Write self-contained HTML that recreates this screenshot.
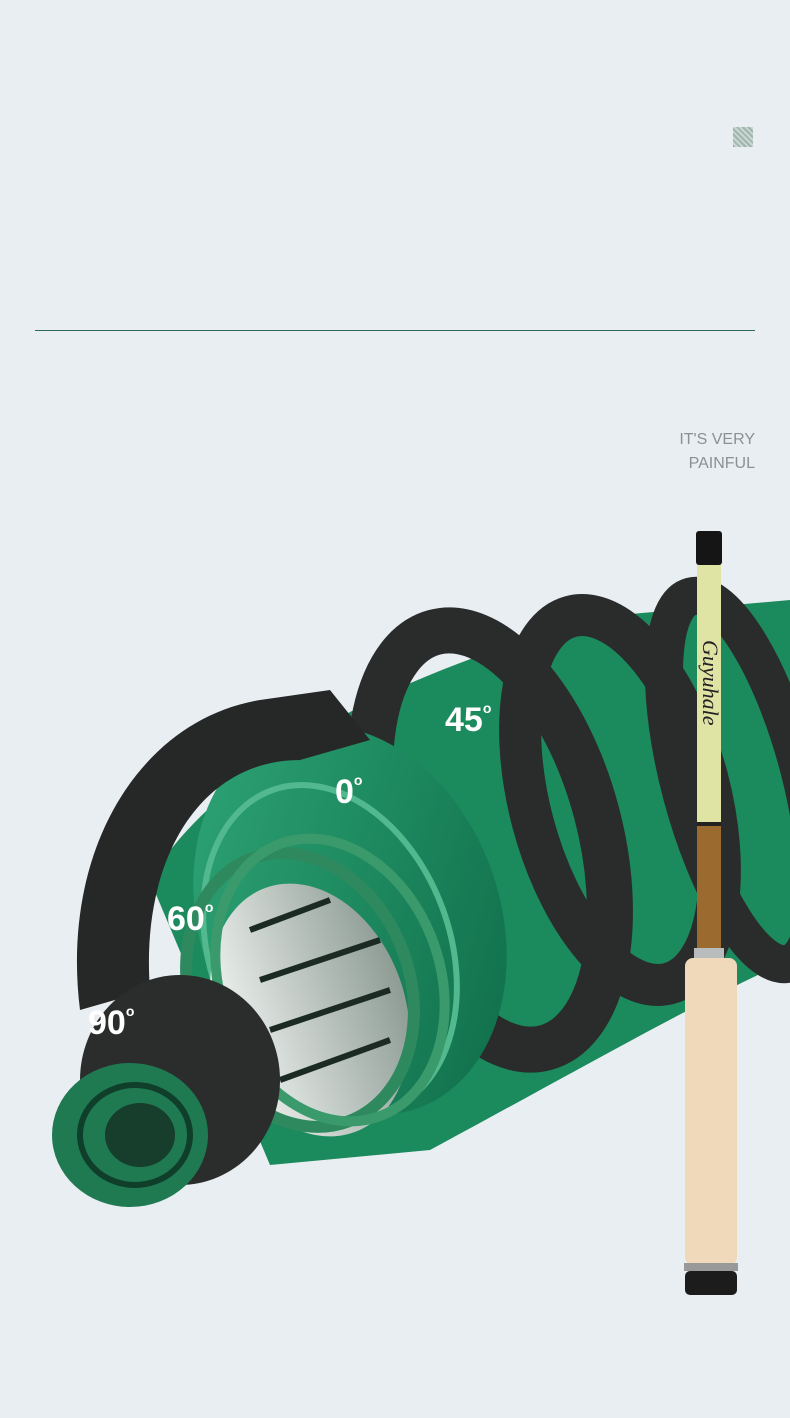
<!DOCTYPE html>
<html><head><meta charset="utf-8"><style>
html,body{margin:0;padding:0}
body{width:790px;height:1418px;background:#e9eef2;position:relative;overflow:hidden;font-family:"Liberation Sans",sans-serif}
.line{position:absolute;left:35px;top:330px;width:720px;height:1px;background:#2f6b55}
.sq{position:absolute;left:733px;top:127px;width:20px;height:20px;background:repeating-linear-gradient(45deg,#9fb5ad 0 2px,#c9d6d1 2px 4px)}
.t{position:absolute;right:35px;top:428px;text-align:right;color:#8b9095;font-size:16px;line-height:24px}
svg{position:absolute;left:0;top:0}
</style></head><body>
<div class="sq"></div>
<div class="line"></div>
<div class="t">IT'S VERY<br>PAINFUL</div>
<svg width="790" height="1418" viewBox="0 0 790 1418">
<defs>
<linearGradient id="g" x1="0" y1="0" x2="1" y2="1"><stop offset="0" stop-color="#2fa878"/><stop offset="1" stop-color="#0d6a47"/></linearGradient>
<linearGradient id="s" x1="0" y1="0" x2="1" y2="0"><stop offset="0" stop-color="#f2f5f3"/><stop offset="1" stop-color="#8e9c95"/></linearGradient>
</defs>
<path d="M150 880 C220 760 420 660 620 615 L790 600 L790 960 C700 1000 560 1080 430 1150 L270 1165 Z" fill="#1b8a5c"/>
<ellipse cx="740" cy="780" rx="60" ry="190" transform="rotate(-15 740 780)" fill="none" stroke="#2a2c2c" stroke-width="38"/>
<ellipse cx="620" cy="800" rx="90" ry="190" transform="rotate(-15 620 800)" fill="none" stroke="#2a2c2c" stroke-width="42"/>
<ellipse cx="490" cy="840" rx="110" ry="215" transform="rotate(-15 490 840)" fill="none" stroke="#2a2c2c" stroke-width="46"/>
<ellipse cx="350" cy="920" rx="150" ry="200" transform="rotate(-20 350 920)" fill="url(#g)"/>
<ellipse cx="330" cy="950" rx="120" ry="170" transform="rotate(-20 330 950)" fill="none" stroke="#52b88d" stroke-width="6"/>
<ellipse cx="310" cy="1010" rx="95" ry="130" transform="rotate(-20 310 1010)" fill="url(#s)"/>
<g stroke="#1c2a24" stroke-width="6">
<line x1="250" y1="930" x2="330" y2="900"/><line x1="260" y1="980" x2="380" y2="940"/><line x1="270" y1="1030" x2="390" y2="990"/><line x1="280" y1="1080" x2="390" y2="1040"/></g>
<ellipse cx="300" cy="990" rx="110" ry="140" transform="rotate(-20 300 990)" fill="none" stroke="#2e8a5e" stroke-width="12"/>
<ellipse cx="330" cy="980" rx="110" ry="145" transform="rotate(-20 330 980)" fill="none" stroke="#3a9a6c" stroke-width="10"/>
<path d="M80 1010 C60 850 140 720 260 700 L330 690 L370 740 L300 760 C200 760 140 860 150 990 Z" fill="#262828"/>
<ellipse cx="180" cy="1080" rx="100" ry="105" fill="#2b2d2d"/>
<ellipse cx="130" cy="1135" rx="78" ry="72" fill="#1f7a52"/>
<ellipse cx="135" cy="1135" rx="55" ry="50" fill="none" stroke="#0f3e2a" stroke-width="6"/>
<ellipse cx="140" cy="1135" rx="35" ry="32" fill="#173d2c"/>
<g font-family="Liberation Sans,sans-serif" font-size="34" font-weight="bold" fill="#fff">
<text x="445" y="731">45<tspan font-size="14" dy="-18">o</tspan></text>
<text x="335" y="803">0<tspan font-size="14" dy="-18">o</tspan></text>
<text x="167" y="930">60<tspan font-size="14" dy="-18">o</tspan></text>
<text x="88" y="1034">90<tspan font-size="14" dy="-18">o</tspan></text>
</g>
<rect x="696" y="531" width="26" height="34" rx="3" fill="#151515"/>
<rect x="697" y="565" width="24" height="260" fill="#dfe3a4"/>
<text x="703" y="640" font-family="Liberation Serif,serif" font-style="italic" font-size="22" fill="#222" transform="rotate(90 703 640)">Guyuhale</text>
<rect x="697" y="822" width="24" height="4" fill="#222"/>
<rect x="697" y="826" width="24" height="124" fill="#9b6a2e"/>
<rect x="694" y="948" width="30" height="10" fill="#b8bcbc"/>
<rect x="685" y="958" width="52" height="307" rx="8" fill="#f0d8bb"/>
<rect x="684" y="1263" width="54" height="8" fill="#999"/>
<rect x="685" y="1271" width="52" height="24" rx="5" fill="#1c1c1c"/>
</svg>
</body></html>
